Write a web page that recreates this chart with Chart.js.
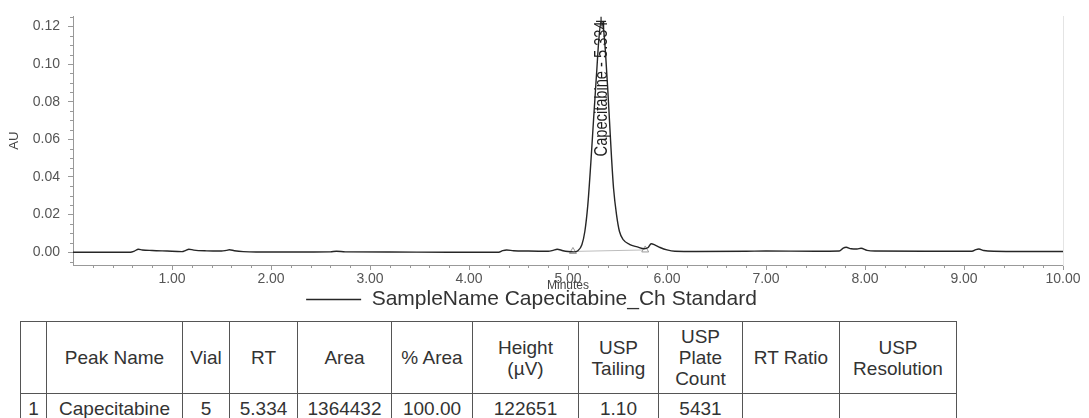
<!DOCTYPE html>
<html>
<head>
<meta charset="utf-8">
<title>Capecitabine standard</title>
<script src="https://cdn.jsdelivr.net/npm/chart.js@4.4.1/dist/chart.umd.min.js"></script>
<style>
  html, body { margin: 0; padding: 0; background: #fff; }
  body { width: 1089px; height: 418px; overflow: hidden; position: relative; font-family: 'Liberation Sans', Arial, sans-serif; }
  #chartBox { position: absolute; left: 0; top: 0; width: 1089px; height: 320px; }
  #peakTable { position: absolute; left: 20px; top: 321px; border-collapse: collapse; table-layout: fixed; color: #333; font-size: 19px; }
  #peakTable td, #peakTable th { border: 1px solid #555; text-align: center; font-weight: normal; padding: 0; line-height: 21px; }
  #peakTable thead tr { height: 72px; }
  #peakTable tbody tr { height: 30px; }
</style>
</head>
<body>
<div id="chartBox"><canvas id="chromatogram"></canvas></div>
<table id="peakTable"><colgroup id="cols"></colgroup><thead></thead><tbody></tbody></table>
<script>
// peak results
const peakName     = 'Capecitabine';
const peakRT       = 5.334;
const peakHeightUV = 122651;
const sampleLabel  = 'SampleName Capecitabine_Ch Standard';

// detector trace, minutes vs AU
const timeMin = [0.00, 0.30, 0.58, 0.62, 0.66, 0.70, 0.80, 0.95, 1.10, 1.14, 1.17, 1.22, 1.35, 1.50, 1.55, 1.58, 1.63, 1.72, 1.85,
  2.20, 2.60, 2.66, 2.75, 3.20, 3.80, 4.30, 4.34, 4.38, 4.45, 4.60, 4.80, 4.85, 4.89, 4.95, 5.00, 5.06, 5.10, 5.14, 5.17,
  5.20, 5.23, 5.26, 5.29, 5.31, peakRT, 5.36, 5.38, 5.40, 5.42, 5.44, 5.46, 5.49, 5.52, 5.56, 5.62, 5.70, 5.77, 5.81, 5.84,
  5.88, 5.93, 6.00, 6.08, 6.30, 6.80, 7.00, 7.50, 7.74, 7.78, 7.81, 7.86, 7.92, 7.96, 8.02, 8.10, 8.60, 9.08, 9.12, 9.15,
  9.20, 9.30, 9.60, 10.00];
const absAU = [0.0000, 0.0000, 0.0000, 0.0006, 0.0016, 0.0012, 0.0009, 0.0006, 0.0003, 0.0010, 0.0016, 0.0011, 0.0007, 0.0006, 0.0010, 0.0013, 0.0008, 0.0003, 0.0001,
  0.0001, 0.0002, 0.0005, 0.0002, 0.0001, 0.0000, 0.0000, 0.0008, 0.0012, 0.0008, 0.0006, 0.0005, 0.0010, 0.0016, 0.0008, 0.0004, 0.0002, 0.0008, 0.0040, 0.0110,
  0.0250, 0.0470, 0.0720, 0.0960, 0.1120, peakHeightUV / 1e6, 0.1180, 0.1050, 0.0880, 0.0690, 0.0500, 0.0340, 0.0200, 0.0110, 0.0065, 0.0042, 0.0028, 0.0018, 0.0025, 0.0045,
  0.0038, 0.0025, 0.0012, 0.0005, 0.0004, 0.0005, 0.0006, 0.0005, 0.0006, 0.0022, 0.0026, 0.0018, 0.0017, 0.0021, 0.0010, 0.0006, 0.0005, 0.0005, 0.0014, 0.0017,
  0.0009, 0.0005, 0.0004, 0.0004];

// integration start / end marks
const intTimes  = [5.05, 5.78];
const intLevels = [0.0004, 0.0012];

const xTickValues = [1, 2, 3, 4, 5, 6, 7, 8, 9, 10];
const yTickValues = [0, 0.02, 0.04, 0.06, 0.08, 0.10, 0.12];

// result table
const tableHeaders = [[''], ['Peak Name'], ['Vial'], ['RT'], ['Area'], ['% Area'], ['Height', '(µV)'],
  ['USP', 'Tailing'], ['USP', 'Plate', 'Count'], ['RT Ratio'], ['USP', 'Resolution']];
const peakRow = ['1', peakName, '5', peakRT.toFixed(3), '1364432', '100.00', String(peakHeightUV), '1.10', '5431', '', ''];
const colWidths = [26, 136, 47, 68, 94, 81, 106, 80, 84, 97, 117];

const cols = document.getElementById('cols');
colWidths.forEach(w => {
  const c = document.createElement('col');
  c.style.width = w + 'px';
  cols.appendChild(c);
});
const headTr = document.createElement('tr');
tableHeaders.forEach(lines => {
  const th = document.createElement('th');
  lines.forEach((l, i) => {
    if (i) th.appendChild(document.createElement('br'));
    th.appendChild(document.createTextNode(l));
  });
  headTr.appendChild(th);
});
document.querySelector('#peakTable thead').appendChild(headTr);
const bodyTr = document.createElement('tr');
peakRow.forEach(v => {
  const td = document.createElement('td');
  td.textContent = v;
  bodyTr.appendChild(td);
});
document.querySelector('#peakTable tbody').appendChild(bodyTr);

// minor tick marks every 0.2 min and 0.005 AU
const xMinor = [], yMinor = [];
for (let i = 1; i < 50; i++) if (i % 5) xMinor.push(i * 0.2);
for (let i = -1; i <= 25; i++) if (i % 4) yMinor.push(i * 0.005);

const minorTicks = {
  id: 'minorTicks',
  afterDraw(chart) {
    const { ctx, chartArea, scales: { x, y } } = chart;
    ctx.save();
    ctx.strokeStyle = '#999';
    ctx.lineWidth = 1;
    ctx.beginPath();
    xMinor.forEach(v => {
      const px = Math.round(x.getPixelForValue(v)) + 0.5;
      ctx.moveTo(px, chartArea.bottom);
      ctx.lineTo(px, chartArea.bottom + 3);
    });
    yMinor.forEach(v => {
      const py = Math.round(y.getPixelForValue(v)) + 0.5;
      if (py < chartArea.top || py > chartArea.bottom) return;
      ctx.moveTo(chartArea.left, py);
      ctx.lineTo(chartArea.left - 3, py);
    });
    ctx.stroke();
    ctx.restore();
  }
};

// vertical peak name written up to the apex, in a narrowed face
const peakLabel = {
  id: 'peakLabel',
  afterDatasetsDraw(chart) {
    const { ctx, scales: { x, y } } = chart;
    const px = x.getPixelForValue(peakRT);
    const py = y.getPixelForValue(peakHeightUV / 1e6);
    ctx.save();
    ctx.translate(px + 1, py);
    ctx.rotate(-Math.PI / 2);
    ctx.scale(0.77, 1);
    ctx.font = '19px "Liberation Sans", Arial, sans-serif';
    ctx.fillStyle = '#1e1e1e';
    ctx.textAlign = 'right';
    ctx.textBaseline = 'middle';
    ctx.fillText(peakName + ' - ' + peakRT.toFixed(3), 0, 0);
    ctx.restore();
  }
};

const tickFont = { family: "'Liberation Sans', Arial, sans-serif", size: 14 };

new Chart(document.getElementById('chromatogram'), {
  type: 'line',
  data: {
    datasets: [
      {
        label: sampleLabel,
        data: timeMin.map((t, i) => ({ x: t, y: absAU[i] })),
        borderColor: '#262626',
        borderWidth: 1.4,
        pointRadius: 0,
        cubicInterpolationMode: 'monotone',
        fill: false
      },
      {
        label: 'baseline',
        data: intTimes.map((t, i) => ({ x: t, y: intLevels[i] })),
        borderColor: '#bdbdbd',
        borderWidth: 1,
        pointStyle: 'triangle',
        pointRadius: 4,
        pointBackgroundColor: '#fff',
        pointBorderColor: '#9a9a9a',
        pointBorderWidth: 1
      },
      {
        label: 'apex',
        data: [{ x: peakRT, y: peakHeightUV / 1e6 }],
        showLine: false,
        pointStyle: 'cross',
        pointRadius: 5,
        pointBorderColor: '#222',
        pointBorderWidth: 1.2
      }
    ]
  },
  options: {
    responsive: true,
    maintainAspectRatio: false,
    animation: false,
    layout: { padding: { top: 13, right: 26, left: 0, bottom: 0 } },
    scales: {
      x: {
        type: 'linear',
        min: 0,
        max: 10,
        afterBuildTicks: s => { s.ticks = xTickValues.map(v => ({ value: v })); },
        afterFit: s => { s.height = 24; },
        ticks: { font: tickFont, color: '#555', padding: 1, maxRotation: 0, callback: v => v.toFixed(2) },
        grid: { drawOnChartArea: false, tickLength: 5, tickColor: '#999' },
        border: { color: '#999' },
        title: { display: true, text: 'Minutes', color: '#444', font: { size: 12 }, padding: { top: 0, bottom: -4 } }
      },
      y: {
        min: -0.0068,
        max: 0.1253,
        afterBuildTicks: s => { s.ticks = yTickValues.map(v => ({ value: v })); },
        afterFit: s => { s.width = 73; },
        ticks: { font: tickFont, color: '#555', padding: 8, callback: v => v.toFixed(2) },
        grid: { drawOnChartArea: false, tickLength: 5, tickColor: '#999' },
        border: { color: '#999' },
        title: { display: true, text: 'AU', color: '#444', font: { size: 13 }, padding: { top: 7 } }
      },
      yRight: {
        position: 'right',
        min: -0.0068,
        max: 0.1253,
        afterFit: s => { s.width = 0; },
        ticks: { display: false },
        grid: { drawOnChartArea: false, drawTicks: false },
        border: { color: '#e4e4e4' }
      }
    },
    plugins: {
      legend: {
        position: 'bottom',
        labels: {
          filter: item => item.datasetIndex === 0,
          usePointStyle: true,
          pointStyle: 'line',
          pointStyleWidth: 55,
          padding: 0,
          color: '#333',
          font: { family: "'Liberation Sans', Arial, sans-serif", size: 21 }
        }
      },
      tooltip: { enabled: false }
    }
  },
  plugins: [minorTicks, peakLabel]
});
</script>
</body>
</html>
